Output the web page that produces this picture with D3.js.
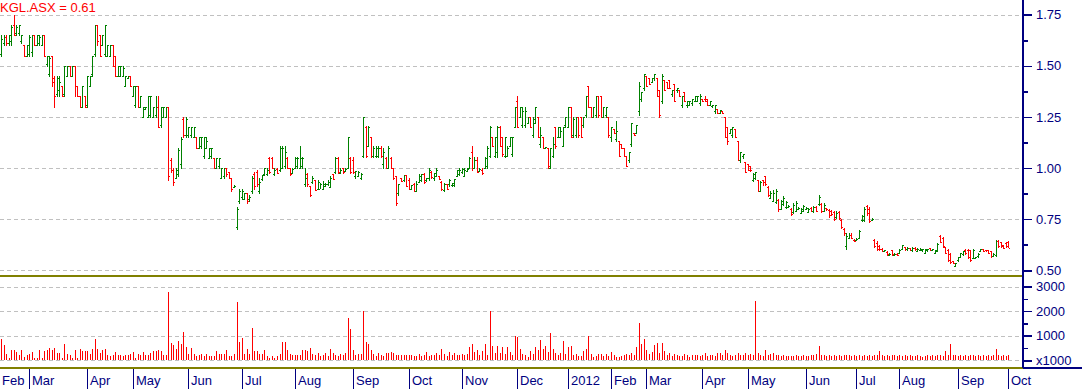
<!DOCTYPE html>
<html>
<head>
<meta charset="utf-8">
<script src="https://cdn.jsdelivr.net/npm/d3@7"></script>
<style>
  body { margin: 0; background: #fff; }
  svg { display: block; font-family: Arial, "Liberation Sans", sans-serif; }
</style>
</head>
<body>
<div id="chart"></div>
<script>
// chart values
const ticker = "KGL.ASX";
const monthLabels = ["Feb","Mar","Apr","May","Jun","Jul","Aug","Sep","Oct","Nov","Dec","2012",
                     "Feb","Mar","Apr","May","Jun","Jul","Aug","Sep","Oct"];
// number of trading bars in each month
const monthBars = [11,23,18,22,21,21,23,22,21,22,20,17,14,22,18,23,20,17,23,20,1];
const priceTicks = [0.5, 0.75, 1.0, 1.25, 1.5, 1.75];
const volumeTicks = [0, 1000, 2000, 3000];

const open = [
  1.56,1.61,1.64,1.61,1.62,1.70,1.66,1.66,1.62,1.60,
  1.55,1.56,1.57,1.65,1.60,1.61,1.60,1.65,1.51,1.46,
  1.55,1.44,1.36,1.38,1.40,1.36,1.45,1.50,1.45,1.50,
  1.40,1.35,1.30,1.35,1.31,1.40,1.46,1.56,1.70,1.65,
  1.60,1.56,1.55,1.55,1.60,1.55,1.45,1.45,1.45,1.40,
  1.44,1.45,1.35,1.31,1.40,1.30,1.25,1.29,1.25,1.26,
  1.25,1.26,1.30,1.21,1.25,1.25,1.30,1.04,0.99,0.95,
  0.97,1.02,1.24,1.16,1.16,1.16,1.15,1.15,1.10,1.11,
  1.06,1.10,1.05,1.06,1.05,1.00,1.01,0.95,0.96,1.00,
  0.98,0.95,0.905,0.71,0.84,0.86,0.85,0.88,0.85,0.89,
  0.97,0.98,0.89,0.945,0.97,0.97,1.05,1.05,0.97,0.995,
  0.99,1.00,1.01,1.05,1.00,0.975,1.00,1.01,1.00,1.01,
  0.92,0.97,0.91,0.93,0.94,0.90,0.90,0.90,0.91,0.92,
  0.905,0.97,0.98,1.05,0.975,1.00,0.985,1.00,1.05,1.04,
  0.96,0.96,0.95,1.06,1.20,1.11,1.15,1.06,1.06,1.06,
  1.10,1.02,1.05,1.00,1.05,1.00,0.96,0.88,0.95,0.94,
  0.965,0.94,0.90,0.92,0.89,0.93,0.94,0.97,0.94,0.95,
  0.98,0.95,0.96,0.96,0.93,0.895,0.92,0.92,0.915,0.915,
  0.96,0.97,0.98,0.96,0.985,1.00,1.08,1.00,1.04,0.985,
  0.99,1.00,1.01,1.06,1.15,1.06,1.08,1.20,1.15,1.06,
  1.06,1.11,1.07,1.20,1.33,1.25,1.21,1.21,1.22,1.25,
  1.16,1.22,1.25,1.12,1.15,1.10,1.10,1.00,1.06,1.20,
  1.15,1.15,1.11,1.21,1.20,1.30,1.16,1.16,1.25,1.25,
  1.21,1.26,1.40,1.30,1.25,1.26,1.35,1.35,1.25,1.26,
  1.25,1.15,1.19,1.14,1.13,1.12,1.10,1.06,1.04,1.12,
  1.17,1.17,1.28,1.34,1.39,1.45,1.44,1.42,1.44,1.44,
  1.38,1.33,1.43,1.42,1.43,1.36,1.41,1.38,1.38,1.31,
  1.37,1.31,1.31,1.32,1.33,1.33,1.32,1.34,1.34,1.34,
  1.31,1.305,1.28,1.29,1.27,1.28,1.25,1.20,1.17,1.16,
  1.19,1.13,1.04,1.06,1.03,1.02,1.01,0.94,0.95,0.94,
  0.89,0.94,0.96,0.905,0.855,0.84,0.835,0.845,0.80,0.825,
  0.81,0.81,0.80,0.785,0.79,0.80,0.78,0.79,0.80,0.785,
  0.805,0.79,0.81,0.825,0.825,0.79,0.804,0.795,0.79,0.785,
  0.76,0.785,0.745,0.70,0.62,0.66,0.675,0.65,0.65,0.66,
  0.745,0.745,0.815,0.80,0.748,0.65,0.635,0.62,0.605,0.594,
  0.59,0.577,0.598,0.576,0.582,0.585,0.605,0.614,0.602,0.607,
  0.598,0.611,0.595,0.601,0.598,0.586,0.598,0.608,0.601,0.585,
  0.595,0.668,0.658,0.612,0.598,0.582,0.545,0.523,0.55,0.567,
  0.578,0.60,0.60,0.597,0.562,0.56,0.569,0.594,0.602,0.599,
  0.598,0.593,0.572,0.575,0.645,0.636,0.622,0.634,0.638
];
const high = [
  1.65,1.65,1.65,1.65,1.70,1.75,1.70,1.70,1.65,1.60,
  1.60,1.65,1.65,1.65,1.65,1.65,1.65,1.65,1.55,1.55,
  1.55,1.45,1.45,1.45,1.40,1.50,1.50,1.50,1.50,1.50,
  1.40,1.35,1.40,1.35,1.45,1.45,1.55,1.70,1.70,1.65,
  1.65,1.70,1.60,1.60,1.60,1.55,1.50,1.50,1.50,1.45,
  1.45,1.45,1.40,1.40,1.40,1.35,1.30,1.30,1.35,1.35,
  1.30,1.35,1.35,1.30,1.30,1.30,1.30,1.05,1.00,1.00,
  1.10,1.15,1.25,1.25,1.20,1.20,1.20,1.15,1.15,1.15,
  1.15,1.15,1.10,1.10,1.05,1.05,1.05,1.00,1.00,1.00,
  0.98,0.95,0.915,0.81,0.90,0.90,0.88,0.88,0.87,0.96,
  0.98,0.99,0.95,0.967,1.00,1.00,1.054,1.054,1.00,1.00,
  1.106,1.106,1.106,1.054,1.00,1.00,1.054,1.054,1.106,1.054,
  1.00,0.975,0.91,0.96,0.943,0.943,0.927,0.935,0.927,0.943,
  0.96,0.973,1.054,1.054,1.00,1.00,1.00,1.152,1.054,1.054,
  0.985,0.984,0.975,1.25,1.204,1.204,1.152,1.106,1.106,1.106,
  1.106,1.10,1.054,1.106,1.054,1.00,0.96,0.92,0.951,0.967,
  0.967,0.951,0.915,0.927,0.935,0.97,0.97,0.975,0.951,1.00,
  0.984,0.975,1.00,0.962,0.935,0.927,0.92,0.945,0.927,0.945,
  0.99,1.00,1.00,1.00,1.00,1.054,1.106,1.054,1.054,1.00,
  1.00,1.054,1.106,1.204,1.152,1.152,1.204,1.204,1.152,1.152,
  1.106,1.152,1.152,1.30,1.35,1.30,1.30,1.30,1.25,1.25,
  1.25,1.30,1.25,1.20,1.15,1.105,1.10,1.10,1.15,1.20,
  1.20,1.20,1.20,1.25,1.30,1.30,1.25,1.25,1.25,1.25,
  1.25,1.35,1.40,1.30,1.30,1.35,1.35,1.35,1.30,1.30,
  1.25,1.20,1.19,1.23,1.13,1.12,1.10,1.06,1.08,1.22,
  1.17,1.21,1.42,1.37,1.46,1.45,1.44,1.44,1.46,1.44,
  1.38,1.46,1.43,1.42,1.43,1.38,1.41,1.39,1.38,1.35,
  1.37,1.33,1.33,1.34,1.35,1.35,1.36,1.34,1.35,1.34,
  1.33,1.31,1.31,1.29,1.285,1.28,1.25,1.20,1.19,1.20,
  1.19,1.13,1.08,1.07,1.03,1.02,1.01,0.975,0.98,0.94,
  0.935,0.943,0.962,0.910,0.886,0.894,0.897,0.848,0.845,0.861,
  0.837,0.820,0.804,0.828,0.837,0.809,0.804,0.820,0.809,0.804,
  0.809,0.815,0.815,0.869,0.828,0.828,0.804,0.799,0.796,0.788,
  0.788,0.788,0.750,0.706,0.681,0.681,0.681,0.652,0.657,0.698,
  0.771,0.809,0.820,0.812,0.755,0.652,0.641,0.624,0.608,0.600,
  0.592,0.583,0.600,0.583,0.583,0.603,0.624,0.616,0.613,0.608,
  0.613,0.613,0.609,0.608,0.605,0.606,0.605,0.609,0.606,0.600,
  0.632,0.673,0.662,0.616,0.603,0.587,0.546,0.538,0.567,0.587,
  0.596,0.603,0.603,0.600,0.603,0.567,0.583,0.606,0.603,0.600,
  0.600,0.595,0.583,0.649,0.649,0.639,0.624,0.636,0.641
];
const low = [
  1.55,1.60,1.60,1.60,1.60,1.65,1.65,1.65,1.61,1.55,
  1.55,1.55,1.55,1.60,1.60,1.60,1.60,1.55,1.50,1.45,
  1.40,1.30,1.35,1.35,1.35,1.35,1.45,1.45,1.45,1.35,
  1.35,1.30,1.30,1.30,1.30,1.40,1.45,1.55,1.60,1.55,
  1.60,1.55,1.55,1.55,1.50,1.45,1.45,1.45,1.45,1.40,
  1.44,1.40,1.35,1.30,1.30,1.30,1.25,1.29,1.25,1.25,
  1.25,1.25,1.20,1.20,1.25,1.25,0.94,0.98,0.915,0.95,
  0.96,1.00,1.15,1.15,1.15,1.15,1.15,1.10,1.10,1.10,
  1.05,1.10,1.05,1.05,1.00,1.00,1.00,0.95,0.95,0.96,
  0.95,0.89,0.905,0.70,0.83,0.85,0.85,0.83,0.84,0.88,
  0.90,0.91,0.88,0.943,0.967,0.967,0.975,1.00,0.967,0.975,
  0.984,1.00,1.00,1.00,0.967,0.975,1.00,1.00,1.00,1.00,
  0.913,0.913,0.864,0.927,0.895,0.897,0.902,0.90,0.91,0.918,
  0.905,0.945,0.975,0.975,0.975,0.975,0.984,1.00,0.975,0.975,
  0.951,0.959,0.946,1.054,1.054,1.106,1.054,1.054,1.054,1.054,
  1.054,1.00,1.00,1.00,1.00,0.946,0.82,0.87,0.935,0.935,
  0.91,0.90,0.898,0.89,0.89,0.93,0.935,0.925,0.935,0.943,
  0.951,0.943,0.959,0.945,0.893,0.89,0.897,0.913,0.91,0.91,
  0.959,0.967,0.975,0.959,0.984,1.00,0.99,1.00,0.98,0.984,
  0.972,1.00,1.00,1.054,1.106,1.054,1.054,1.106,1.06,1.054,
  1.06,1.106,1.06,1.20,1.20,1.25,1.20,1.20,1.22,1.20,
  1.15,1.22,1.15,1.105,1.10,1.10,1.00,1.00,1.055,1.10,
  1.15,1.15,1.11,1.20,1.20,1.15,1.15,1.15,1.15,1.15,
  1.20,1.25,1.30,1.25,1.25,1.25,1.25,1.25,1.25,1.25,
  1.15,1.13,1.17,1.13,1.06,1.10,1.06,1.01,1.03,1.11,
  1.16,1.17,1.26,1.33,1.38,1.40,1.41,1.42,1.43,1.35,
  1.25,1.32,1.38,1.39,1.39,1.35,1.33,1.37,1.35,1.30,
  1.33,1.30,1.31,1.31,1.33,1.33,1.31,1.33,1.33,1.31,
  1.31,1.30,1.27,1.27,1.27,1.27,1.15,1.12,1.17,1.15,
  1.15,1.04,1.03,1.05,0.98,0.99,0.985,0.935,0.945,0.89,
  0.886,0.918,0.918,0.861,0.853,0.837,0.828,0.788,0.799,0.820,
  0.804,0.809,0.771,0.779,0.788,0.799,0.779,0.788,0.799,0.783,
  0.788,0.783,0.788,0.820,0.783,0.788,0.796,0.763,0.771,0.747,
  0.755,0.750,0.706,0.673,0.606,0.657,0.657,0.641,0.649,0.657,
  0.739,0.739,0.771,0.734,0.747,0.616,0.600,0.600,0.592,0.592,
  0.575,0.575,0.575,0.575,0.575,0.583,0.603,0.600,0.600,0.600,
  0.596,0.600,0.592,0.600,0.596,0.583,0.596,0.600,0.600,0.583,
  0.592,0.636,0.616,0.583,0.547,0.538,0.534,0.521,0.547,0.564,
  0.575,0.580,0.559,0.547,0.559,0.559,0.567,0.592,0.592,0.596,
  0.583,0.567,0.570,0.570,0.616,0.616,0.608,0.613,0.616
];
const close = [
  1.63,1.64,1.61,1.65,1.69,1.65,1.69,1.70,1.65,1.55,
  1.60,1.64,1.65,1.60,1.65,1.64,1.65,1.55,1.55,1.54,
  1.42,1.35,1.44,1.42,1.35,1.50,1.50,1.45,1.50,1.40,
  1.35,1.30,1.40,1.30,1.45,1.45,1.55,1.70,1.62,1.55,
  1.65,1.70,1.60,1.60,1.50,1.45,1.50,1.50,1.49,1.45,
  1.45,1.40,1.40,1.40,1.30,1.35,1.30,1.30,1.35,1.35,
  1.30,1.30,1.20,1.30,1.30,1.30,0.96,0.99,0.93,0.99,
  1.09,1.14,1.16,1.24,1.20,1.20,1.20,1.10,1.15,1.15,
  1.15,1.13,1.10,1.10,1.00,1.05,1.05,1.00,1.00,0.97,
  0.95,0.90,0.91,0.80,0.89,0.89,0.88,0.84,0.86,0.95,
  0.91,0.92,0.93,0.965,1.00,0.99,0.98,1.00,0.99,0.975,
  1.10,1.10,1.08,1.00,0.97,0.995,1.05,1.05,1.05,1.05,
  0.95,0.92,0.87,0.95,0.895,0.93,0.92,0.92,0.92,0.93,
  0.95,0.945,1.05,0.98,0.99,0.98,0.995,1.15,0.98,0.98,
  0.985,0.98,0.97,1.25,1.06,1.20,1.06,1.10,1.10,1.10,
  1.06,1.08,1.00,1.10,1.00,0.95,0.83,0.92,0.935,0.965,
  0.91,0.90,0.915,0.89,0.92,0.96,0.97,0.93,0.95,0.99,
  0.955,0.975,0.99,0.945,0.90,0.92,0.90,0.94,0.925,0.945,
  0.99,0.99,0.995,0.99,0.995,1.05,1.00,1.04,0.98,0.995,
  0.975,1.05,1.10,1.20,1.11,1.15,1.20,1.11,1.07,1.15,
  1.10,1.15,1.15,1.30,1.20,1.30,1.28,1.28,1.25,1.20,
  1.24,1.30,1.15,1.16,1.10,1.105,1.01,1.10,1.12,1.11,
  1.20,1.18,1.20,1.25,1.30,1.15,1.24,1.25,1.16,1.15,
  1.25,1.35,1.30,1.25,1.30,1.35,1.26,1.25,1.30,1.30,
  1.16,1.20,1.17,1.18,1.06,1.10,1.06,1.01,1.08,1.22,
  1.16,1.21,1.40,1.37,1.46,1.40,1.41,1.44,1.46,1.35,
  1.26,1.45,1.38,1.39,1.39,1.38,1.33,1.39,1.35,1.35,
  1.33,1.33,1.33,1.34,1.35,1.35,1.35,1.33,1.33,1.31,
  1.33,1.31,1.31,1.27,1.285,1.27,1.15,1.13,1.19,1.20,
  1.15,1.04,1.08,1.07,0.98,0.99,0.99,0.97,0.98,0.89,
  0.93,0.93,0.92,0.87,0.88,0.88,0.89,0.80,0.84,0.855,
  0.835,0.815,0.775,0.82,0.83,0.805,0.80,0.815,0.805,0.80,
  0.79,0.81,0.79,0.86,0.79,0.82,0.798,0.77,0.775,0.75,
  0.78,0.755,0.71,0.68,0.67,0.675,0.66,0.642,0.655,0.69,
  0.765,0.80,0.78,0.74,0.752,0.62,0.605,0.603,0.595,0.599,
  0.578,0.582,0.578,0.581,0.577,0.60,0.622,0.603,0.61,0.601,
  0.61,0.602,0.606,0.606,0.603,0.603,0.603,0.601,0.605,0.598,
  0.628,0.64,0.62,0.587,0.552,0.542,0.536,0.535,0.564,0.584,
  0.593,0.583,0.565,0.552,0.598,0.565,0.58,0.604,0.594,0.597,
  0.586,0.571,0.58,0.645,0.62,0.62,0.61,0.617,0.61
];
// volume in thousands of shares
const volume = [
  860,610,245,110,435,410,340,205,435,135, 205,270,325,110,110,435,110,380,435,490,
  435,515,300,300,110,650,245,205,110,435, 110,475,365,365,365,270,475,885,475,300,
  410,475,205,165,205,325,205,205,165,205, 205,270,355,110,270,205,325,205,205,300,
  365,365,410,365,205,205,2775,705,610,450, 775,650,1155,545,270,490,270,190,205,270,
  165,270,190,165,190,380,245,245,245,410, 165,165,270,2380,750,900,245,450,245,1310,
  380,380,270,270,410,165,110,165,110,165, 245,735,735,410,270,205,205,205,205,410,
  430,380,520,250,200,300,180,220,310,180,450,300,220,180,250,210,300,1720,1270,
  420,210,270,240,2000,730,650,410,250,180,280,220,180,280,300,350,300,230,220,200,220,230,
  200,220,170,180,260,180,200,320,170,200,220,280,200,450,250,180,320,220,280,200,220,
  250,200,270,530,650,350,400,220,380,650,230,2000,600,300,580,310,560,260,560,350,220,970,
  950,440,250,200,140,380,250,550,420,810,450,600,350,1130,470,300,200,280,770,240,
  540,570,200,260,180,170,380,470,990,250,150,160,250,240,160,250,180,
  340,200,150,150,190,220,250,230,300,210,530,1510,650,850,
  410,250,330,610,700,300,700,360,220,300,180,250,220,180,160,250,200,150,220,200,230,180,
  230,300,180,230,220,180,280,300,200,400,280,200,180,230,300,200,220,310,
  220,250,200,2430,280,230,170,410,200,250,310,220,230,180,200,180,180,180,180,200,160,180,220,
  170,180,200,200,250,570,200,200,180,200,170,200,160,200,180,200,200,200,180,200,
  180,200,180,200,160,220,180,200,200,380,200,180,200,170,220,200,180,
  200,180,220,180,200,170,180,210,180,120,170,200,180,220,180,200,230,190,380,230,650,200,220,
  180,200,180,210,180,200,220,180,200,180,220,180,200,170,200,450,200,180,210,180,
  200
];

// layout
const width = 1082, height = 389;
const axisX = 1023;
const navy = "#000080", olive = "#808000", up = "#008000", down = "#ff0000", gridColor = "#c0c0c0";

const svg = d3.select("#chart").append("svg")
    .attr("width", width)
    .attr("height", height)
    .attr("shape-rendering", "crispEdges");

const N = close.length;
const x = d3.scaleLinear().domain([0, N - 1]).range([1.2, 1008.3]);
const yPrice = d3.scaleLinear().domain([0.5, 1.75]).range([270.3, 14.7]);
const yVol = d3.scaleLinear().domain([0, 3000]).range([360.3, 286.6]);
const px = i => Math.round(x(i));

// dashed grid lines
const grid = svg.append("g").attr("stroke", gridColor).attr("stroke-dasharray", "4,3");
priceTicks.forEach(t => {
    grid.append("line").attr("x1", 0).attr("x2", axisX - 1)
        .attr("y1", Math.round(yPrice(t)) + 0.5).attr("y2", Math.round(yPrice(t)) + 0.5);
});
volumeTicks.forEach(t => {
    grid.append("line").attr("x1", 0).attr("x2", axisX - 1)
        .attr("y1", Math.round(yVol(t)) + 0.5).attr("y2", Math.round(yVol(t)) + 0.5);
});

// price bars (open tick left, close tick right)
const bars = svg.append("g").selectAll("g")
    .data(d3.range(N))
    .enter().append("g")
    .attr("fill", i => close[i] >= open[i] ? up : down);
bars.append("rect")
    .attr("x", i => px(i))
    .attr("y", i => Math.round(yPrice(high[i])))
    .attr("width", 1)
    .attr("height", i => Math.max(1, Math.round(yPrice(low[i])) - Math.round(yPrice(high[i])) + 1));
bars.append("rect")
    .attr("x", i => px(i) - 1)
    .attr("y", i => Math.round(yPrice(open[i])))
    .attr("width", 1).attr("height", 1);
bars.append("rect")
    .attr("x", i => px(i) + 1)
    .attr("y", i => Math.round(yPrice(close[i])))
    .attr("width", 1).attr("height", 1);

// volume bars
svg.append("g").attr("fill", down).selectAll("rect")
    .data(volume)
    .enter().append("rect")
    .attr("x", (d, i) => px(i))
    .attr("y", d => Math.round(yVol(d)))
    .attr("width", 1)
    .attr("height", d => Math.round(yVol(0)) - Math.round(yVol(d)));

// panel separators
svg.append("rect").attr("x", 0).attr("y", 275).attr("width", axisX).attr("height", 2).attr("fill", olive);
svg.append("rect").attr("x", 0).attr("y", 367).attr("width", axisX).attr("height", 2).attr("fill", olive);
svg.append("rect").attr("x", axisX).attr("y", 367).attr("width", width - axisX).attr("height", 2).attr("fill", navy);

// right axis
function styleAxis(g) {
    g.select(".domain").remove();
    g.selectAll(".tick line").attr("stroke", navy).attr("stroke-width", 1.5);
    g.selectAll(".tick text").attr("fill", navy).style("font-size", "13px")
        .style("font-family", "Arial, 'Liberation Sans', sans-serif");
}
const minorPrice = d3.pairs(priceTicks, (a, b) => (a + b) / 2);
const minorVol = d3.pairs(volumeTicks, (a, b) => (a + b) / 2);

svg.append("g").attr("transform", `translate(${axisX},0)`)
    .call(d3.axisRight(yPrice).tickValues(priceTicks).tickFormat(d3.format(".2f")).tickSize(9).tickPadding(4))
    .call(styleAxis);
svg.append("g").attr("transform", `translate(${axisX},0)`)
    .call(d3.axisRight(yPrice).tickValues(minorPrice).tickFormat("").tickSize(5))
    .call(styleAxis);
svg.append("g").attr("transform", `translate(${axisX},0)`)
    .call(d3.axisRight(yVol).tickValues(volumeTicks).tickFormat(d => d === 0 ? "x1000" : d).tickSize(9).tickPadding(4))
    .call(styleAxis);
svg.append("g").attr("transform", `translate(${axisX},0)`)
    .call(d3.axisRight(yVol).tickValues(minorVol).tickFormat("").tickSize(5))
    .call(styleAxis);
svg.append("rect").attr("x", axisX - 1).attr("y", 0).attr("width", 2).attr("height", 368).attr("fill", navy);

// month axis along the bottom
const starts = [0];
monthBars.forEach((n, k) => { if (k < monthBars.length - 1) starts.push(starts[k] + n); });
const months = svg.append("g");
starts.forEach((s, k) => {
    const mx = k === 0 ? -1 : px(s);
    if (k > 0) {
        months.append("rect").attr("x", mx).attr("y", 369).attr("width", 1).attr("height", 20).attr("fill", navy);
    }
    months.append("text")
        .attr("x", mx + 3)
        .attr("y", 385)
        .attr("fill", navy)
        .style("font-size", "13px")
        .text(monthLabels[k]);
});

// title
svg.append("text")
    .attr("x", 0)
    .attr("y", 12)
    .attr("fill", "#ff0000")
    .style("font-size", "13px")
    .text(ticker + " = " + d3.format(".2f")(close[N - 1]));
</script>
</body>
</html>
